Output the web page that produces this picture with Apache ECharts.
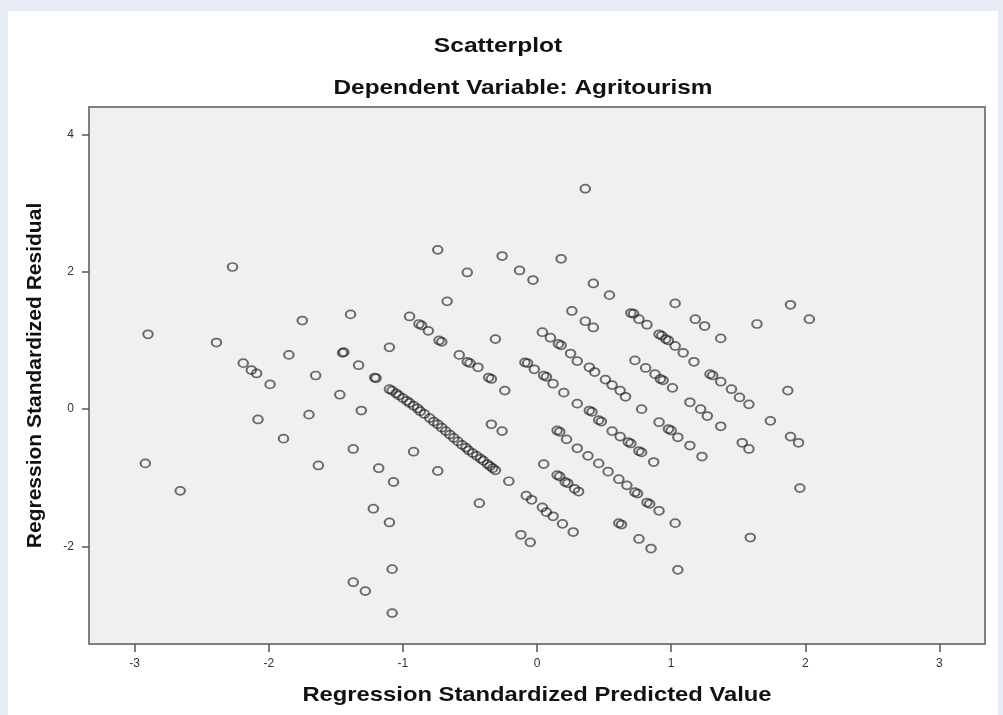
<!DOCTYPE html>
<html>
<head>
<meta charset="utf-8">
<script src="https://cdn.jsdelivr.net/npm/echarts@6/dist/echarts.min.js"></script>
<style>
html,body{margin:0;padding:0;width:1003px;height:715px;overflow:hidden;background:#e7ecf7;}
#panel{position:absolute;left:8px;top:11px;width:990px;height:704px;background:#ffffff;}
#chart{position:absolute;left:0;top:0;width:1003px;height:715px;}
</style>
</head>
<body>
<div id="panel"></div>
<div id="chart"></div>
<script>
// ---- tick labels ----
const xTicks = [-3, -2, -1, 0, 1, 2, 3];
const yTicks = [-2, 0, 2, 4];

// ---- data: [standardized predicted value, standardized residual] ----
const leftGroup = [
  [-2.90,1.09],[-2.92,-0.79],[-2.66,-1.19],[-2.39,0.97],[-2.27,2.07],[-2.19,0.67],
  [-2.13,0.57],[-2.09,0.52],[-2.08,-0.15],[-1.99,0.36],[-1.89,-0.43],[-1.85,0.79],
  [-1.75,1.29],[-1.70,-0.08],[-1.65,0.49],[-1.63,-0.82],[-1.47,0.21],[-1.45,0.82],
  [-1.44,0.83],[-1.39,1.38],[-1.37,-0.58],[-1.37,-2.52],[-1.33,0.64],[-1.31,-0.02],
  [-1.28,-2.65],[-1.22,-1.45],[-1.21,0.46],[-1.20,0.45],[-1.18,-0.86],[-1.10,-1.65],
  [-1.10,0.90],[-1.07,-1.06],[-1.08,-2.33],[-1.08,-2.97]
];
const denseLine = [
  [-1.10,0.29],[-1.08,0.27],[-1.05,0.23],[-1.03,0.20],[-1.00,0.16],[-0.97,0.12],
  [-0.95,0.09],[-0.92,0.05],[-0.89,0.01],[-0.87,-0.03],[-0.84,-0.07],[-0.80,-0.13],
  [-0.77,-0.18],[-0.74,-0.22],[-0.71,-0.27],[-0.68,-0.32],[-0.65,-0.37],[-0.62,-0.42],
  [-0.59,-0.47],[-0.56,-0.52],[-0.53,-0.56],[-0.51,-0.60],[-0.48,-0.64],[-0.45,-0.68],
  [-0.42,-0.72],[-0.40,-0.75],[-0.37,-0.80],[-0.35,-0.83],[-0.33,-0.86],[-0.31,-0.89]
];
const middleGroup = [
  [-0.95,1.35],[-0.88,1.24],[-0.86,1.22],[-0.81,1.14],[-0.73,1.00],[-0.71,0.98],
  [-0.58,0.79],[-0.52,0.69],[-0.50,0.67],[-0.44,0.61],[-0.36,0.46],[-0.34,0.44],
  [-0.24,0.27],[-0.34,-0.22],[-0.26,-0.32],[-0.92,-0.62],[-0.74,-0.90],[-0.43,-1.37],
  [-0.21,-1.05],[-0.67,1.57],[-0.74,2.32],[-0.52,1.99],[-0.31,1.02],[-0.26,2.23],
  [-0.13,2.02],[-0.03,1.88],[0.18,2.19],[0.36,3.21],[0.26,1.43]
];
const centerGroup = [
  [0.04,1.12],[0.10,1.04],[0.16,0.95],[0.18,0.93],[0.25,0.81],[0.30,0.70],[0.39,0.61],
  [0.43,0.54],[0.51,0.43],[0.56,0.35],[0.62,0.27],[0.66,0.18],
  [-0.09,0.68],[-0.07,0.67],[-0.02,0.58],[0.05,0.49],[0.07,0.47],[0.12,0.37],[0.20,0.24],
  [0.30,0.08],[0.39,-0.02],[0.41,-0.04],[0.46,-0.16],[0.48,-0.18],[0.56,-0.32],
  [0.62,-0.40],[0.68,-0.48],[0.70,-0.50],[0.76,-0.61],[0.78,-0.63],[0.87,-0.77]
];
const lowerCenterGroup = [
  [0.05,-0.80],[0.15,-0.31],[0.17,-0.33],[0.22,-0.44],[0.30,-0.57],[0.38,-0.68],
  [0.46,-0.79],[0.53,-0.91],[0.61,-1.02],[0.67,-1.11],[0.73,-1.21],[0.75,-1.23],
  [0.82,-1.36],[0.84,-1.38],[0.91,-1.48],[1.03,-1.66],
  [0.15,-0.96],[0.17,-0.98],[0.21,-1.06],[0.23,-1.08],[0.28,-1.16],[0.31,-1.20],
  [-0.08,-1.26],[-0.04,-1.32],[0.04,-1.43],[0.07,-1.50],[0.12,-1.56],[0.19,-1.67],
  [0.27,-1.79],[-0.12,-1.83],[-0.05,-1.94],
  [0.61,-1.66],[0.63,-1.68],[0.76,-1.89],[0.85,-2.03],[1.05,-2.34],[1.59,-1.87]
];
const rightGroup = [
  [0.42,1.83],[0.54,1.66],[1.03,1.54],[1.64,1.24],[0.36,1.28],[0.42,1.19],[0.70,1.40],
  [0.72,1.39],[0.76,1.31],[0.82,1.23],[1.18,1.31],[1.25,1.21],[1.37,1.03],[0.91,1.09],
  [0.93,1.07],[0.96,1.02],[0.98,1.00],[1.03,0.92],[1.09,0.82],[1.17,0.69],[0.73,0.71],
  [0.81,0.60],[0.88,0.51],[0.92,0.44],[0.94,0.42],[1.01,0.31],[1.29,0.51],[1.31,0.49],
  [1.37,0.40],[1.45,0.29],[1.51,0.17],[1.58,0.07],[0.78,0.00],[1.14,0.10],[1.22,0.00],
  [1.27,-0.10],[1.37,-0.25],[0.91,-0.19],[0.98,-0.29],[1.00,-0.31],[1.05,-0.41],
  [1.14,-0.53],[1.23,-0.69],[1.53,-0.49],[1.58,-0.58],[1.89,1.52],[2.03,1.31],
  [1.87,0.27],[1.74,-0.17],[1.89,-0.40],[1.95,-0.49],[1.96,-1.15]
];

const allPoints = [].concat(leftGroup, denseLine, middleGroup, centerGroup, lowerCenterGroup, rightGroup);

const chart = echarts.init(document.getElementById('chart'), null, {renderer: 'canvas'});
const FONT = '"Liberation Sans", Arial, sans-serif';
const axisGrey = '#7f7f7f';

function hText(text, x, y, size, sx) {
  return {type: 'text', x: x, y: y, scaleX: sx, scaleY: 1, originX: 0, originY: 0,
    style: {text: text, fontFamily: FONT, fontWeight: 'bold', fontSize: size, fill: '#111',
      align: 'center', verticalAlign: 'middle'}};
}

chart.setOption({
  backgroundColor: 'transparent',
  animation: false,
  graphic: [
    hText('Scatterplot', 498, 46, 21, 1.17),
    hText('Dependent Variable: Agritourism', 523, 88, 21, 1.16),
    hText('Regression Standardized Predicted Value', 537, 695, 20.5, 1.16)
  ],
  grid: {
    left: 89, right: 18, top: 107, bottom: 71,
    show: true, backgroundColor: '#f0f0f0', borderColor: axisGrey, borderWidth: 2,
    containLabel: false
  },
  xAxis: {
    type: 'value', min: -3.34, max: 3.34,
    axisLine: {show: true, onZero: false, lineStyle: {color: axisGrey, width: 2}},
    axisTick: {show: true, length: 8, lineStyle: {color: '#555', width: 1.5}, customValues: xTicks},
    axisLabel: {margin: 14, fontFamily: FONT, fontSize: 12, color: '#333', customValues: xTicks},
    splitLine: {show: false}
  },
  yAxis: {
    type: 'value', min: -3.42, max: 4.40,
    name: 'Regression Standardized Residual',
    nameLocation: 'middle', nameGap: 43,
    nameTextStyle: {fontFamily: FONT, fontWeight: 'bold', fontSize: 21, color: '#111'},
    axisLine: {show: true, onZero: false, lineStyle: {color: axisGrey, width: 2}},
    axisTick: {show: true, length: 7, lineStyle: {color: '#555', width: 1.5}, customValues: yTicks},
    axisLabel: {margin: 15, fontFamily: FONT, fontSize: 12, color: '#333', customValues: yTicks},
    splitLine: {show: false}
  },
  series: [{
    type: 'scatter',
    data: allPoints,
    symbol: 'path://M0,4A4.5,4 0 1 1 9,4A4.5,4 0 1 1 0,4Z',
    symbolSize: [9.5, 8],
    itemStyle: {color: 'rgba(0,0,0,0)', borderColor: 'rgba(30,30,30,0.8)', borderWidth: 1.9},
    emphasis: {disabled: true}
  }]
});
</script>
</body>
</html>
